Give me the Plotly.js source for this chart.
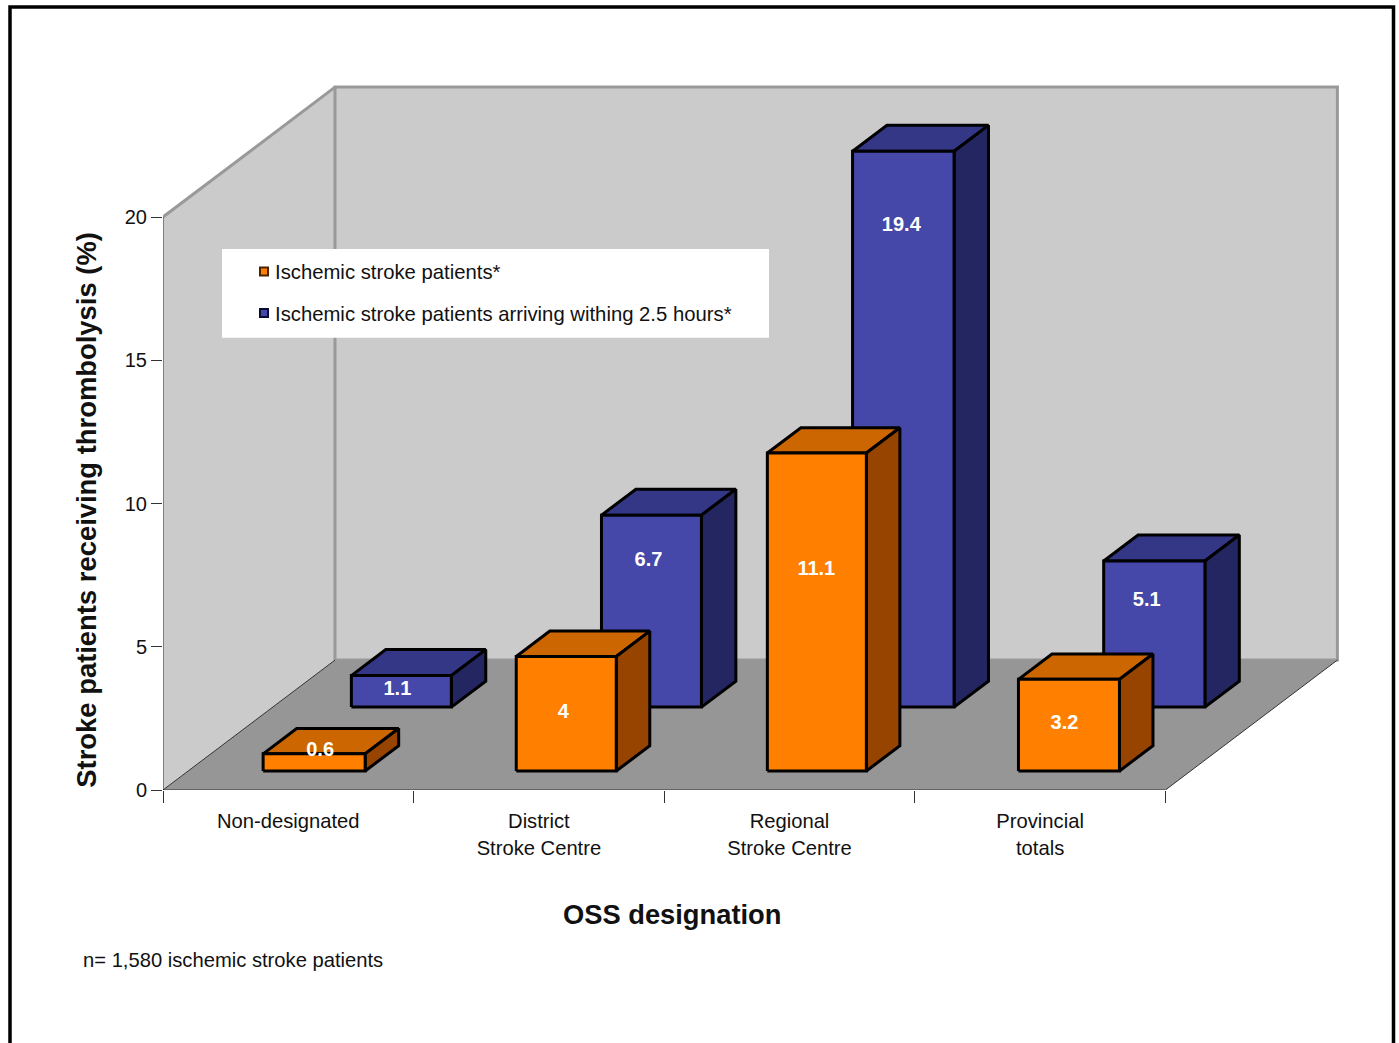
<!DOCTYPE html>
<html>
<head>
<meta charset="utf-8">
<script src="https://cdn.plot.ly/plotly-3.0.1.min.js"></script>
<style>html,body{margin:0;padding:0;background:#fff;overflow:hidden}#chart{width:1399px;height:1043px}</style>
</head>
<body>
<div id="chart"></div>
<script>
// Thrombolysis rates by OSS designation
const categories = ['Non-designated', 'District<br>Stroke Centre', 'Regional<br>Stroke Centre', 'Provincial<br>totals'];
const allPatients = [0.6, 4, 11.1, 3.2];
const within25Hours = [1.1, 6.7, 19.4, 5.1];
const seriesNames = ['Ischemic stroke patients*', 'Ischemic stroke patients arriving withing 2.5 hours*'];
const yTicks = [0, 5, 10, 15, 20];
const footnote = 'n= 1,580 ischemic stroke patients';

// Bar placement inside each category slot (fractions of a slot)
const allStart = [0.2994, 0.3094, 0.3114, 0.3134];
const allWidth = [0.407, 0.399, 0.395, 0.403];
const withinStart = [0.3138, 0.3118, 0.3138, 0.3158];
const withinWidth = [0.399, 0.399, 0.405, 0.404];

// Value label placement: shift from the face centre (categories) and height above the bar foot (axis units)
const allLabelDx = [0.024, -0.012, -0.002, -0.018];
const allLabelH = [0.70, 2.02, 7.03, 1.64];
const withinLabelDx = [-0.016, -0.012, -0.008, -0.030];
const withinLabelH = [0.59, 5.09, 16.79, 3.69];

// Page geometry
const W = 1399, H = 1043;
const plotLeft = 163, baseline = 790.5;
const catPx = 250.6, valPx = 28.67;
const plotRight = 1345, plotTop = 80;
const FONT = '"Liberation Sans", Arial, sans-serif';

// Oblique depth: depth 0 is the front of the floor, depth 1 is the back wall
const depthX = 172 / catPx, depthY = 130 / valPx;
const px = (c, d) => c + d * depthX;
const py = (v, d) => v + d * depthY;
const maxVal = yTicks[yTicks.length - 1];
const nCats = categories.length;

function poly(points) {
  return { x: points.map(p => p === null ? null : px(p[0], p[2])),
           y: points.map(p => p === null ? null : py(p[1], p[2])) };
}
function face(points, fill, line, lw) {
  return Object.assign(poly(points), {
    type: 'scatter', mode: 'lines', fill: fill ? 'toself' : 'none', fillcolor: fill || undefined,
    line: { color: line, width: lw, simplify: false }, cliponaxis: false,
    showlegend: false, hoverinfo: 'skip'
  });
}
function barTraces(values, starts, widths, d0, dd, cols) {
  const front = [], topFace = [], side = [];
  const d1 = d0 + dd;
  values.forEach((v, i) => {
    const a = i + starts[i], b = a + widths[i];
    front.push([a, 0, d0], [b, 0, d0], [b, v, d0], [a, v, d0], [a, 0, d0], null);
    topFace.push([a, v, d0], [b, v, d0], [b, v, d1], [a, v, d1], [a, v, d0], null);
    side.push([b, 0, d0], [b, 0, d1], [b, v, d1], [b, v, d0], [b, 0, d0], null);
  });
  return [face(topFace, cols[1], '#000', 3), face(side, cols[2], '#000', 3), face(front, cols[0], '#000', 3)];
}
function labelTrace(values, starts, widths, d0, dx, h) {
  return {
    type: 'scatter', mode: 'text', cliponaxis: false, showlegend: false, hoverinfo: 'skip',
    x: values.map((v, i) => px(i + starts[i] + widths[i] / 2 + dx[i], d0)),
    y: values.map((v, i) => py(h[i], d0)),
    text: values.map(String), textposition: 'middle center',
    textfont: { family: FONT, size: 20, color: '#fff', weight: 700 }
  };
}
function legendKey(name, color, edge) {
  return {
    type: 'scatter', mode: 'markers', x: [null], y: [null], name, legendgroup: name,
    marker: { symbol: 'square', size: 8, color, line: { color: edge, width: 2 } }, hoverinfo: 'skip'
  };
}

const ORANGE = ['#FF8000', '#CC6600', '#964400'];
const BLUE = ['#4547A9', '#343686', '#232660'];
const frontRow = 0.146, backRow = 0.638;

const traces = [
  // room: left wall, back wall, floor and its edges
  face([[0,0,0],[0,maxVal,0],[0,maxVal,1],[0,0,1],[0,0,0]], '#CBCBCB', 'rgba(0,0,0,0)', 0),
  face([[0,0,1],[0,maxVal,1],[nCats,maxVal,1],[nCats,0,1],[0,0,1]], '#CBCBCB', '#999999', 3),
  face([[0,0,0],[nCats,0,0],[nCats,0,1],[0,0,1],[0,0,0]], '#969696', 'rgba(0,0,0,0)', 0),
  face([[0,maxVal,0],[0,maxVal,1]], null, '#999999', 3),
  face([[0,maxVal,0],[0,0,0],[nCats,0,0],[nCats,0,1],null,[0,0,0],[0,0,1]], null, '#333333', 1),
  // bars: the back row first so the front row overlaps it
  ...barTraces(within25Hours, withinStart, withinWidth, backRow, 0.2, BLUE),
  ...barTraces(allPatients, allStart, allWidth, frontRow, 0.195, ORANGE),
  labelTrace(within25Hours, withinStart, withinWidth, backRow, withinLabelDx, withinLabelH),
  labelTrace(allPatients, allStart, allWidth, frontRow, allLabelDx, allLabelH),
  legendKey(seriesNames[0], ORANGE[0], '#4a2400'),
  legendKey(seriesNames[1], BLUE[0], '#0c0c30')
];

const plotW = plotRight - plotLeft, plotH = baseline - plotTop;
const paperX = p => (p - plotLeft) / plotW;
const paperY = p => (baseline - p) / plotH;

const layout = {
  width: W, height: H,
  margin: { l: plotLeft, r: W - plotRight, t: plotTop, b: H - baseline, pad: 0 },
  paper_bgcolor: '#fff', plot_bgcolor: 'rgba(0,0,0,0)',
  font: { family: FONT, size: 20, color: '#111' },
  showlegend: true,
  legend: {
    x: paperX(235), y: paperY(252), xanchor: 'left', yanchor: 'top',
    bgcolor: 'rgba(0,0,0,0)', borderwidth: 0, traceorder: 'grouped', tracegroupgap: 12,
    font: { family: FONT, size: 20.3, color: '#111' }, itemclick: false, itemdoubleclick: false
  },
  xaxis: {
    range: [0, plotW / catPx], showgrid: false, zeroline: false, showline: false,
    tickmode: 'array', tickvals: categories.map((c, i) => i + 0.5), ticktext: categories,
    ticks: 'outside', ticklen: 13, tickcolor: 'rgba(0,0,0,0)', tickfont: { size: 20.2, family: FONT, color: '#111' },
    minor: { tickmode: 'array', tickvals: [0, 1, 2, 3, 4], ticks: 'outside', ticklen: 12, tickwidth: 1, tickcolor: '#333', showgrid: false }
  },
  yaxis: {
    range: [0, plotH / valPx], showgrid: false, zeroline: false, showline: false,
    tickmode: 'array', tickvals: yTicks, ticktext: yTicks.map(String),
    ticks: 'outside', ticklen: 11, tickwidth: 1, tickcolor: '#333', tickfont: { size: 20, family: FONT, color: '#111' }
  },
  shapes: [
    { type: 'rect', xref: 'paper', yref: 'paper', x0: paperX(10), x1: paperX(1393.5), y0: paperY(1080), y1: paperY(7),
      line: { color: '#000', width: 3.5 }, fillcolor: 'rgba(0,0,0,0)', layer: 'above' },
    { type: 'rect', xref: 'paper', yref: 'paper', x0: paperX(222), x1: paperX(769), y0: paperY(338), y1: paperY(249),
      line: { width: 0 }, fillcolor: '#fff', layer: 'above' }
  ],
  annotations: [
    { text: 'Stroke patients receiving thrombolysis (%)', xref: 'paper', yref: 'paper', x: paperX(87), y: paperY(510),
      textangle: -90, showarrow: false, xanchor: 'center', yanchor: 'middle',
      font: { family: FONT, size: 27.4, color: '#111', weight: 700 } },
    { text: 'OSS designation', xref: 'paper', yref: 'paper', x: paperX(672), y: paperY(915),
      showarrow: false, xanchor: 'center', yanchor: 'middle',
      font: { family: FONT, size: 27.3, color: '#111', weight: 700 } },
    { text: footnote, xref: 'paper', yref: 'paper', x: paperX(81), y: paperY(961),
      showarrow: false, xanchor: 'left', yanchor: 'middle', font: { family: FONT, size: 20.2, color: '#111' } }
  ]
};

const gd = document.getElementById('chart');
Plotly.newPlot(gd, traces, layout, { displayModeBar: false, responsive: false }).then(() => {
  // Tighten the gap between each legend key and its text
  gd.querySelectorAll('.legend .legendsymbols').forEach(el => {
    el.setAttribute('transform', 'translate(9,0)');
  });
});
</script>
</body>
</html>
